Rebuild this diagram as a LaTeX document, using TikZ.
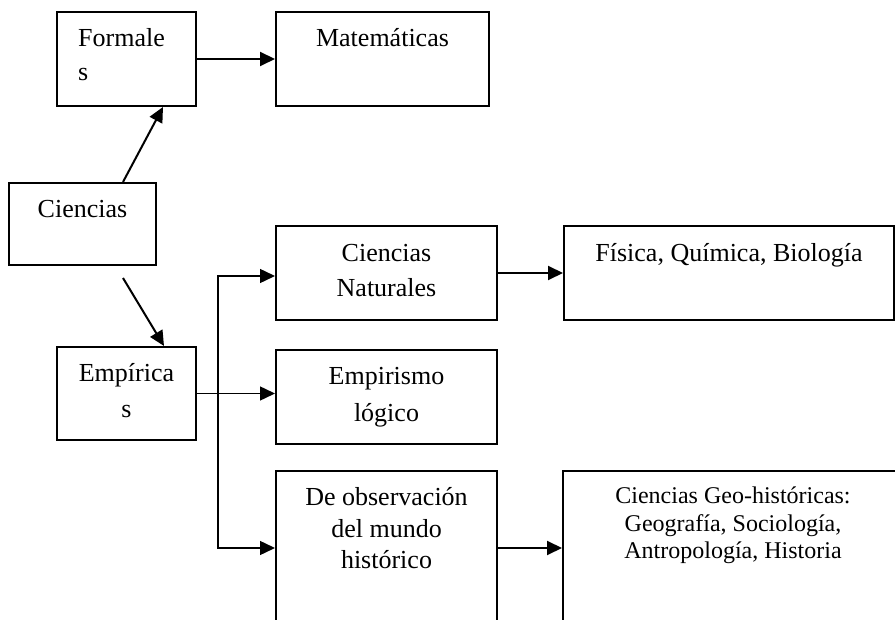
\documentclass[tikz,border=0pt]{standalone}
\usepackage{fontspec}
\setmainfont{Liberation Serif}
\usetikzlibrary{arrows.meta}
\begin{document}
\begin{tikzpicture}[x=1pt,y=-1pt,
  box/.style={draw,line width=2pt,rectangle,inner sep=0pt},
  txt/.style={inner sep=0pt,anchor=base,font=\fontsize{26}{30}\selectfont},
  txtl/.style={txt,anchor=base west},
  txts/.style={txt,font=\fontsize{24}{28}\selectfont},
  arr/.style={line width=2pt,-{Triangle[length=15pt,width=14pt]}},
  thin/.style={line width=1.5pt}]
\useasboundingbox (0,0) rectangle (895,620);
\clip (0,0) rectangle (895,620);
% boxes
\node[box,minimum width=139pt,minimum height=94pt] (form) at (126.5,59) {};
\node[box,minimum width=213pt,minimum height=94pt] (mate) at (382.5,59) {};
\node[box,minimum width=147pt,minimum height=82pt] (cien) at (82.5,224) {};
\node[box,minimum width=139pt,minimum height=93pt] (emp) at (126.5,393.5) {};
\node[box,minimum width=221pt,minimum height=94pt] (cn) at (386.5,273) {};
\node[box,minimum width=330pt,minimum height=94pt] (fis) at (729,273) {};
\node[box,minimum width=221pt,minimum height=94pt] (emplog) at (386.5,397) {};
\node[box,minimum width=221pt,minimum height=154pt] (obs) at (386.5,548) {};
\node[box,minimum width=340pt,minimum height=168pt] (geo) at (733,555) {};
% texts
\node[txtl] (tform1) at (78,47) {Formale};
\node[txtl] (tform2) at (78,81) {s};
\node[txt] (tmate) at (382.5,47) {Matemáticas};
\node[txt] (tcien) at (82.5,218) {Ciencias};
\node[txt] (temp1) at (126.5,382) {Empírica};
\node[txt] (temp2) at (126.5,418) {s};
\node[txt] (tcn1) at (386.5,262) {Ciencias};
\node[txt] (tcn2) at (386.5,297) {Naturales};
\node[txt] (tfis) at (729,262) {Física, Química, Biología};
\node[txt] (tel1) at (386.5,385) {Empirismo};
\node[txt] (tel2) at (386.5,421) {lógico};
\node[txt] (tobs1) at (386.5,505) {De observación};
\node[txt] (tobs2) at (386.5,537) {del mundo};
\node[txt] (tobs3) at (386.5,568) {histórico};
\node[txts] (tgeo1) at (733,503) {Ciencias Geo-históricas:};
\node[txts] (tgeo2) at (733,531) {Geografía, Sociología,};
\node[txts] (tgeo3) at (733,558) {Antropología, Historia};
% connectors
\draw[arr] (form.east) -- (mate.west);
\draw[arr] ([xshift=40.5pt]cien.north) -- ([xshift=36.5pt]form.south);
\draw[arr] ([xshift=40.5pt,yshift=-12pt]cien.south) -- ([xshift=37.5pt]emp.north);
\draw[arr] (cn.east) -- (cn.east -| fis.west);
\draw[arr] (obs.east) -- (obs.east -| geo.west);
\coordinate (jt) at (218,276);
\coordinate (jb) at (218,548);
\draw[thin,-{Triangle[length=15pt,width=14pt]}] (emp.east) -- (emp.east -| emplog.west);
\draw[thin,-{Triangle[length=15pt,width=14pt]}] (jb) -- (jt) -- (jt -| cn.west);
\draw[thin,-{Triangle[length=15pt,width=14pt]}] (jt) -- (jb) -- (jb -| obs.west);
\end{tikzpicture}
\end{document}
